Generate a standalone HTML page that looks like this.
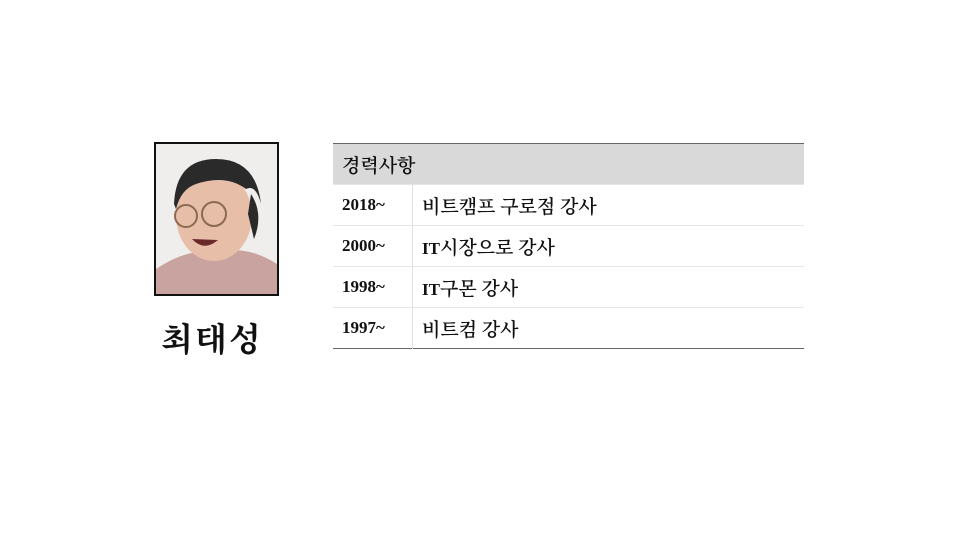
<!DOCTYPE html>
<html><head><meta charset="utf-8"><style>
body{margin:0;width:960px;height:540px;background:#fff;position:relative;overflow:hidden;font-family:"Liberation Serif","Noto Serif CJK SC","Noto Sans CJK KR",serif}
.photo{position:absolute;left:154px;top:142px;width:121px;height:150px;border:2px solid #111;background:#f2f2f2;overflow:hidden}
.name{position:absolute;left:150px;top:314px;width:124px;text-align:center;font-size:33px;font-weight:bold;color:#111;letter-spacing:2px;font-family:"Noto Serif CJK SC","Liberation Serif",serif}
table{position:absolute;left:333px;top:143px;width:471px;border-collapse:collapse;border-top:1px solid #666;border-bottom:1px solid #666}
td{height:40px;padding:0 0 0 9px;font-size:19px;color:#111;border-top:1px solid #e6e6e6;font-weight:600;font-family:"Liberation Serif","Noto Serif CJK SC",serif}
th{height:40px;background:#d9d9d9;text-align:left;padding:0 0 0 9px;font-size:19px;font-weight:600;color:#111;font-family:"Liberation Serif","Noto Serif CJK SC",serif}
td.y{width:70px;font-weight:bold;font-size:17px;border-right:1px solid #e0e0e0}
</style></head><body>
<div class="photo">
<svg width="121" height="150" viewBox="0 0 121 150">
<rect width="121" height="150" fill="#f0eeec"/>
<path d="M0 150 L0 125 Q30 105 55 108 Q90 100 121 120 L121 150Z" fill="#c9a3a0"/>
<ellipse cx="58" cy="72" rx="38" ry="45" fill="#e7bfa8"/>
<path d="M18 60 Q20 15 60 15 Q100 15 105 60 Q100 40 90 45 Q70 30 40 40 Q25 45 20 65Z" fill="#2b2a2a"/>
<path d="M95 50 Q108 70 98 95 L92 70Z" fill="#2b2a2a"/>
<circle cx="30" cy="72" r="11" fill="none" stroke="#8a6a50" stroke-width="2"/>
<circle cx="58" cy="70" r="12" fill="none" stroke="#8a6a50" stroke-width="2"/>
<path d="M36 95 Q48 108 62 96 Z" fill="#6a2a2a"/>
</svg></div>
<div class="name">최태성</div>
<table>
<tr><th colspan="2">경력사항</th></tr>
<tr><td class="y">2018~</td><td>비트캠프 구로점 강사</td></tr>
<tr><td class="y">2000~</td><td><b style="font-size:17px">IT</b>시장으로 강사</td></tr>
<tr><td class="y">1998~</td><td><b style="font-size:17px">IT</b>구몬 강사</td></tr>
<tr><td class="y">1997~</td><td>비트컴 강사</td></tr>
</table>
</body></html>
